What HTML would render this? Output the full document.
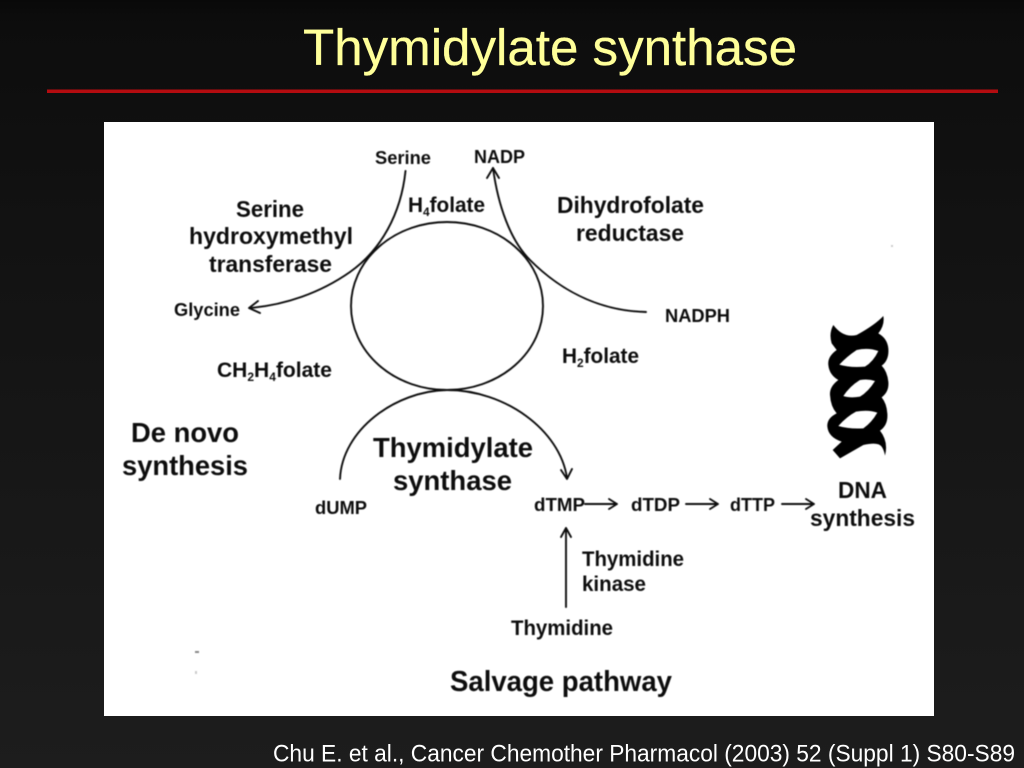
<!DOCTYPE html>
<html><head><meta charset="utf-8"><title>Thymidylate synthase</title>
<style>
html,body{margin:0;padding:0;width:1024px;height:768px;overflow:hidden;background:#111}
svg{display:block}
.d text{font-family:"Liberation Sans",sans-serif;font-weight:bold;fill:#111;transform:translateY(.8px)}
</style></head><body>
<svg width="1024" height="768" viewBox="0 0 1024 768" xmlns="http://www.w3.org/2000/svg">
<defs>
<linearGradient id="bg" x1="0" y1="0" x2="0" y2="1">
<stop offset="0" stop-color="#090909"/><stop offset=".03" stop-color="#0d0d0d"/><stop offset=".3" stop-color="#121212"/><stop offset="1" stop-color="#1d1d1d"/>
</linearGradient>
<filter id="soft" x="-2%" y="-2%" width="104%" height="104%"><feGaussianBlur stdDeviation="0.4"/></filter>
</defs>
<rect width="1024" height="768" fill="url(#bg)"/>
<text x="303" y="65" font-family="Liberation Sans, sans-serif" font-size="51" fill="#ffff99" stroke="#ffff99" stroke-width=".3" textLength="494" lengthAdjust="spacingAndGlyphs">Thymidylate synthase</text>
<rect x="47" y="89.5" width="951" height="3.5" fill="#b40c10"/>
<rect x="104" y="122" width="830" height="594" fill="#fff"/>
<text x="273" y="761.5" font-family="Liberation Sans, sans-serif" font-size="24" fill="#fff" textLength="742" lengthAdjust="spacingAndGlyphs">Chu E. et al., Cancer Chemother Pharmacol (2003) 52 (Suppl 1) S80-S89</text>

<g class="d" filter="url(#soft)">
<g fill="none" stroke="#111" stroke-width="1.9" stroke-linecap="round" stroke-linejoin="round">
<ellipse cx="447" cy="306" rx="96" ry="84"/>
<path d="M405.5 171C401 214 381 250 350 272C320 293 285 305 250 308"/>
<path d="M258 301L249 308L260 313"/>
<path d="M493 168C498 205 510 240 530 260C565 295 605 311 646 312"/>
<path d="M487 178L493 168L499 178"/>
<path d="M340 479C342 430 395 391 447 390C505 390 560 430 567 478"/>
<path d="M561 470L567 479L572 469"/>
<path d="M585 504H617M609 499L617 504L609 509"/>
<path d="M686 504H718M710 499L718 504L710 509"/>
<path d="M782 504H814M806 499L814 504L806 509"/>
<path d="M566 607V528M561 537L566 528L571 537"/>
</g>
<text x="375" y="163" font-size="18.5" textLength="56" lengthAdjust="spacingAndGlyphs">Serine</text>
<text x="474" y="162" font-size="18.5" textLength="51" lengthAdjust="spacingAndGlyphs">NADP</text>
<text x="408" y="211" font-size="21" textLength="77" lengthAdjust="spacingAndGlyphs">H<tspan font-size="12" dy="4">4</tspan><tspan dy="-4">folate</tspan></text>
<text x="236" y="216" font-size="23" textLength="68" lengthAdjust="spacingAndGlyphs">Serine</text>
<text x="189" y="243" font-size="23" textLength="164" lengthAdjust="spacingAndGlyphs">hydroxymethyl</text>
<text x="209" y="271" font-size="23" textLength="123" lengthAdjust="spacingAndGlyphs">transferase</text>
<text x="557" y="212" font-size="23" textLength="147" lengthAdjust="spacingAndGlyphs">Dihydrofolate</text>
<text x="576" y="240" font-size="23" textLength="108" lengthAdjust="spacingAndGlyphs">reductase</text>
<text x="174" y="315" font-size="18.5" textLength="66" lengthAdjust="spacingAndGlyphs">Glycine</text>
<text x="665" y="321" font-size="18.5" textLength="65" lengthAdjust="spacingAndGlyphs">NADPH</text>
<text x="217" y="376" font-size="21" textLength="115" lengthAdjust="spacingAndGlyphs">CH<tspan font-size="12" dy="4">2</tspan><tspan dy="-4">H</tspan><tspan font-size="12" dy="4">4</tspan><tspan dy="-4">folate</tspan></text>
<text x="562" y="362" font-size="21" textLength="77" lengthAdjust="spacingAndGlyphs">H<tspan font-size="12" dy="4">2</tspan><tspan dy="-4">folate</tspan></text>
<text x="131" y="441" font-size="28" textLength="108" lengthAdjust="spacingAndGlyphs">De novo</text>
<text x="122" y="474" font-size="28" textLength="126" lengthAdjust="spacingAndGlyphs">synthesis</text>
<text x="373" y="456" font-size="28" textLength="160" lengthAdjust="spacingAndGlyphs">Thymidylate</text>
<text x="393" y="489" font-size="28" textLength="119" lengthAdjust="spacingAndGlyphs">synthase</text>
<text x="315" y="513" font-size="18.5" textLength="52" lengthAdjust="spacingAndGlyphs">dUMP</text>
<text x="534" y="510" font-size="18.5" textLength="51" lengthAdjust="spacingAndGlyphs">dTMP</text>
<text x="631" y="510" font-size="18.5" textLength="49" lengthAdjust="spacingAndGlyphs">dTDP</text>
<text x="730" y="510" font-size="18.5" textLength="45" lengthAdjust="spacingAndGlyphs">dTTP</text>
<text x="838" y="497" font-size="23" textLength="49" lengthAdjust="spacingAndGlyphs">DNA</text>
<text x="810" y="525" font-size="23" textLength="105" lengthAdjust="spacingAndGlyphs">synthesis</text>
<text x="582" y="565" font-size="21" textLength="102" lengthAdjust="spacingAndGlyphs">Thymidine</text>
<text x="582" y="590" font-size="21" textLength="64" lengthAdjust="spacingAndGlyphs">kinase</text>
<text x="511" y="634" font-size="21" textLength="102" lengthAdjust="spacingAndGlyphs">Thymidine</text>
<text x="450" y="690" font-size="29" textLength="222" lengthAdjust="spacingAndGlyphs">Salvage pathway</text>
<path transform="translate(800 300) scale(.3333)" fill="#000" fill-rule="evenodd" d="M100 75Q86 100 95 130L110 150Q82 170 85 195Q88 225 115 240Q88 260 90 285Q92 320 110 340Q80 355 82 380Q85 412 125 425L98 450L120 475L190 435Q235 425 245 440Q252 450 255 467Q266 425 240 392Q265 375 262 340Q260 310 245 292Q268 275 265 245Q262 215 245 197Q268 180 265 145Q262 115 235 100Q255 75 250 48Q225 75 170 105Q130 115 100 75ZM170 150Q205 142 235 153Q220 185 195 200Q150 204 118 194Q140 170 170 150ZM180 240Q205 236 225 243Q205 275 180 290Q150 295 130 288Q150 258 180 240ZM168 335Q205 328 232 338Q215 368 190 385Q150 388 115 378Q140 350 168 335Z"/>
<rect x="195" y="651" width="4" height="2" fill="#888"/>
<rect x="195" y="671" width="2" height="3" fill="#ccc"/>
<rect x="891" y="245" width="2" height="2" fill="#ccc"/>
</g>
</svg>
</body></html>
